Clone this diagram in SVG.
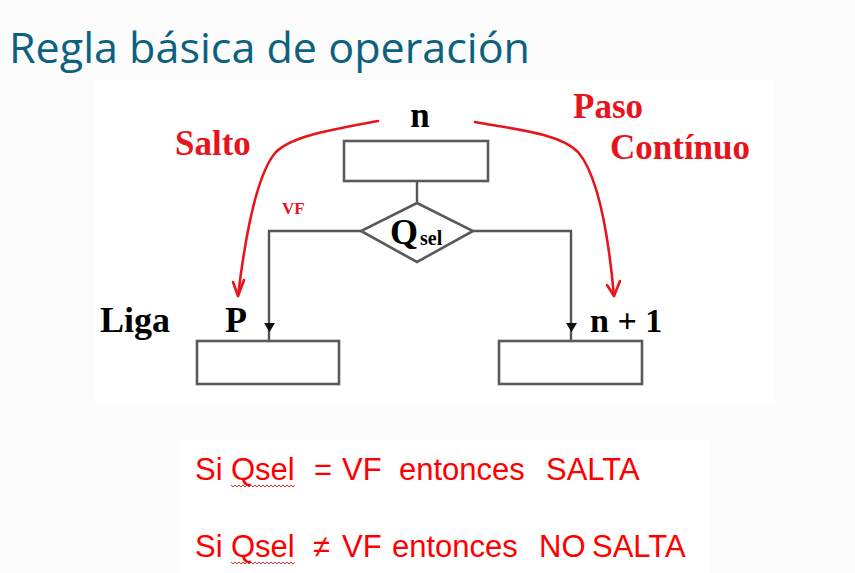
<svg xmlns="http://www.w3.org/2000/svg" width="855" height="573" viewBox="0 0 855 573">
<style>
.box{fill:#fff;stroke:#5a5a5a;stroke-width:2.6}
.ln{fill:none;stroke:#555;stroke-width:2.4}
.red{fill:none;stroke:#e8141c;stroke-width:2.6;stroke-linecap:round;stroke-linejoin:round}
.tb{font-family:"Liberation Serif",serif;font-weight:bold;fill:#000}
.tr{font-family:"Liberation Serif",serif;font-weight:bold;fill:#e8141c}
.ta{font-family:"Liberation Sans",Arial,sans-serif;font-size:31px;fill:#ff0000}
.wave{fill:none;stroke:#e03030;stroke-width:1}
</style>
<rect width="855" height="573" fill="#fcfcfc"/>
<rect x="95" y="80" width="680" height="325" fill="#fff"/>
<rect x="180" y="440" width="530" height="133" fill="#fff"/>
<g id="title"><text x="9" y="63" font-family="Open Sans, sans-serif" font-size="42" fill="#0c6180" textLength="521" lengthAdjust="spacingAndGlyphs">Regla básica de operación</text></g>
<g id="connectors">
<line class="ln" x1="417" y1="181" x2="417" y2="203"/>
<polyline class="ln" points="361,231 269,231 269,341"/>
<polyline class="ln" points="473,231 571,231 571,341"/>
<path d="M264,323 L275,323 L269.5,332 Z" fill="#111"/>
<path d="M566,323 L577,323 L571.5,332 Z" fill="#111"/>
<path class="red" d="M378,121 C330,130 292,136 276,152 C258,172 246,230 238,296"/>
<path class="red" d="M233,282 L238,296 L244,280"/>
<path class="red" d="M475,122 C520,130 560,134 578,152 C598,175 608,230 614,296"/>
<path class="red" d="M607,285 L614,296 L620,281"/>
</g>
<g id="node-n"><rect class="box" x="344" y="141" width="144" height="40"/><text class="tb" x="420" y="127" font-size="35" text-anchor="middle">n</text></g>
<g id="decision"><polygon class="box" points="417,203 473,231 417,262 361,231"/><text class="tb" x="390" y="244" font-size="36">Q</text><text class="tb" x="420" y="245" font-size="20">sel</text></g>
<g id="node-p"><rect class="box" x="197" y="341" width="142" height="43"/><text class="tb" x="225" y="332" font-size="36">P</text><text class="tb" x="100" y="332" font-size="36">Liga</text></g>
<g id="node-n1"><rect class="box" x="499" y="341" width="143" height="43"/><text class="tb" x="590" y="332" font-size="34">n + 1</text></g>
<g id="labels">
<text class="tr" x="175" y="155" font-size="35">Salto</text>
<text class="tr" x="573" y="118" font-size="35">Paso</text>
<text class="tr" x="610" y="159" font-size="35">Contínuo</text>
<text class="tr" x="282" y="214" font-size="17">VF</text>
</g>
<g id="rules">
<text class="ta" y="480"><tspan x="195">Si</tspan><tspan x="231">Qsel</tspan><tspan x="314">=</tspan><tspan x="342">VF</tspan><tspan x="399">entonces</tspan><tspan x="546">SALTA</tspan></text>
<text class="ta" y="557"><tspan x="195">Si</tspan><tspan x="231">Qsel</tspan><tspan x="313">≠</tspan><tspan x="342">VF</tspan><tspan x="392">entonces</tspan><tspan x="539">NO</tspan><tspan x="592">SALTA</tspan></text>
<path class="wave" d="M231,485 l2,2 l2,-2 l2,2 l2,-2 l2,2 l2,-2 l2,2 l2,-2 l2,2 l2,-2 l2,2 l2,-2 l2,2 l2,-2 l2,2 l2,-2 l2,2 l2,-2 l2,2 l2,-2 l2,2 l2,-2 l2,2 l2,-2 l2,2 l2,-2 l2,2 l2,-2 l2,2 l2,-2 l2,2 l2,-2"/>
<path class="wave" d="M231,562 l2,2 l2,-2 l2,2 l2,-2 l2,2 l2,-2 l2,2 l2,-2 l2,2 l2,-2 l2,2 l2,-2 l2,2 l2,-2 l2,2 l2,-2 l2,2 l2,-2 l2,2 l2,-2 l2,2 l2,-2 l2,2 l2,-2 l2,2 l2,-2 l2,2 l2,-2 l2,2 l2,-2 l2,2 l2,-2"/>
</g>
</svg>
